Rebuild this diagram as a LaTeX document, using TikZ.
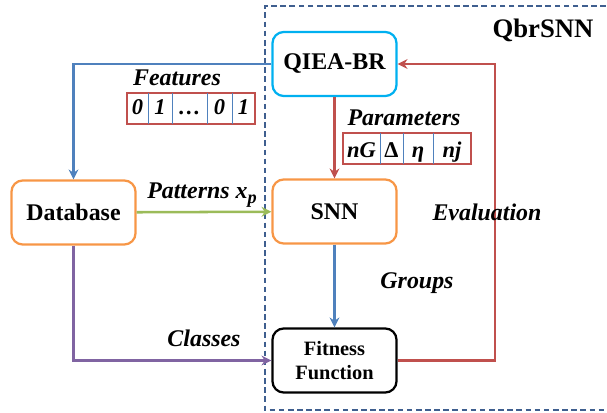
\documentclass[tikz,border=0pt]{standalone}
\usepackage{fontspec}
\setmainfont{Liberation Serif}
\usepackage{tikz}
\usetikzlibrary{arrows.meta, positioning}

\definecolor{qcyan}{HTML}{00B0F0}
\definecolor{qorange}{HTML}{F79646}
\definecolor{qblue}{HTML}{4F81BD}
\definecolor{qred}{HTML}{C0504D}
\definecolor{qgreen}{HTML}{9BBB59}
\definecolor{qpurple}{HTML}{8064A2}
\definecolor{qframe}{HTML}{3F5F8F}

\tikzset{
    block/.style={draw, line width=1.6pt, rounded corners=8pt, minimum width=3.1cm, minimum height=1.6cm,
        inner sep=0pt, align=center, font=\fontsize{17}{20}\selectfont\bfseries},
    tag/.style={anchor=base, inner sep=0pt, font=\fontsize{17}{20}\selectfont\bfseries\itshape},
    bit/.style={anchor=base, inner sep=0pt, font=\fontsize{16}{19}\selectfont\bfseries\itshape},
    flow/.style={line width=1.8pt, -{Stealth[length=7pt, width=7pt]}},
    bitframe/.style={draw=qred, line width=1.3pt},
    celldiv/.style={draw=qblue, line width=0.7pt}
}

\begin{document}
\begin{tikzpicture}[x=0.025cm, y=-0.025cm]
    \useasboundingbox (0,0) rectangle (607,413);

    % QbrSNN frame
    \draw[qframe, line width=1.2pt, dash pattern=on 4pt off 2.5pt] (615,6) -- (265,6) -- (265,410) -- (615,410);
    \node[anchor=base, font=\fontsize{19}{22}\selectfont\bfseries] (qbrsnn) at (543,38) {QbrSNN};

    % Blocks
    \node[block, draw=qcyan] (qiea) at (334.5,64) {QIEA-BR};
    \node[block, draw=qorange] (snn) at (334.5,211.5) {SNN};
    \node[block, draw=black, font=\fontsize{14.5}{17.7}\selectfont\bfseries] (fit) at (334.5,360.5) {Fitness\\Function};
    \node[block, draw=qorange] (db) at (73.5,212.5) {Database};

    % Connectors
    \draw[flow, qblue] (qiea.west) -| (db.north);
    \draw[flow, qred] (qiea) -- (snn);
    \draw[flow, qblue] (snn) -- (fit);
    \draw[flow, qgreen] (db) -- (snn);
    \draw[flow, qpurple] (db.south) |- (fit.west);
    \coordinate (evalturn) at (495,361);
    \draw[flow, qred] (fit.east) -- (fit.east -| evalturn) |- (qiea.east);

    % Labels
    \node[tag] (featlbl) at (177,86) {Features};
    \node[tag] (paramlbl) at (404,126) {Parameters};
    \node[tag] (patlbl) at (202,199) {Patterns \textit{x}\raisebox{-0.4ex}{\fontsize{13}{15}\selectfont p}};
    \node[tag] (evallbl) at (487,221) {Evaluation};
    \node[tag] (grplbl) at (417,289) {Groups};
    \node[tag] (clslbl) at (204,347) {Classes};

    % Features bit string
    \draw[bitframe] (127,93) rectangle (255,124);
    \foreach \x in {148,172,207,232}
        \draw[celldiv] (\x,93) -- (\x,124);
    \foreach \t/\x [count=\i] in {0/137.5, 1/160, {\ldots}/189.5, 0/219.5, 1/243.5}
        \node[bit] (fbit\i) at (\x,115) {\t};

    % Parameter string
    \draw[bitframe] (343,133) rectangle (471,164);
    \foreach \x in {380,403,433}
        \draw[celldiv] (\x,133) -- (\x,164);
    \foreach \t/\x [count=\i] in {nG/361.5, {\upshape Δ}/391.5, η/418, nj/452}
        \node[bit] (pbit\i) at (\x,158) {\t};
\end{tikzpicture}
\end{document}
